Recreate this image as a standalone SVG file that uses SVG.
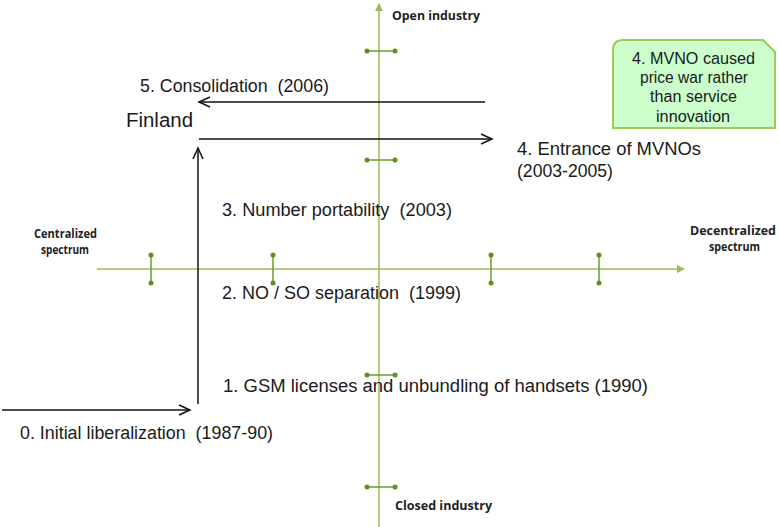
<svg xmlns="http://www.w3.org/2000/svg" width="779" height="527" viewBox="0 0 779 527">
<style>
.t{font-family:"Liberation Sans",Arial,sans-serif;font-size:18px;fill:#1a1a1a}
.s{font-family:"Open Sans","Liberation Sans",sans-serif;font-size:12px;font-weight:bold;fill:#222}
.ax{stroke:#9bbb59;stroke-width:1.5;fill:none}
.tk{stroke:#6f9a2e;stroke-width:1.5}
.dot{fill:#5f8f1f}
.bl{stroke:#111;stroke-width:1.5;fill:none}
.box{fill:#ccffcc;stroke:#9bcc5a;stroke-width:2}
.bt{font-family:"Liberation Sans",Arial,sans-serif;font-size:16px;fill:#1a1a1a}
</style>
<defs>
<marker id="ga" markerWidth="8" markerHeight="8" refX="7" refY="4" orient="auto" markerUnits="userSpaceOnUse">
<path d="M0,0 L8,4 L0,8 Z" fill="#9bbb59"/>
</marker>
<marker id="ba" markerWidth="14" markerHeight="12" refX="12" refY="6" orient="auto" markerUnits="userSpaceOnUse">
<path d="M1,1 L12,6 L1,11" fill="none" stroke="#111" stroke-width="1.5"/>
</marker>
</defs>
<rect width="779" height="527" fill="#fff"/>
<g id="axes">
<line class="ax" x1="379" y1="527" x2="379" y2="4" marker-end="url(#ga)"/>
<line class="ax" x1="97" y1="269" x2="684" y2="269" marker-end="url(#ga)"/>
</g>
<g id="ticks">
<line class="tk" x1="367" y1="51" x2="395" y2="51"/><circle class="dot" cx="367" cy="51" r="2.5"/><circle class="dot" cx="395" cy="51" r="2.5"/>
<line class="tk" x1="367" y1="160" x2="395" y2="160"/><circle class="dot" cx="367" cy="160" r="2.5"/><circle class="dot" cx="395" cy="160" r="2.5"/>
<line class="tk" x1="367" y1="375" x2="395" y2="375"/><circle class="dot" cx="367" cy="375" r="2.5"/><circle class="dot" cx="395" cy="375" r="2.5"/>
<line class="tk" x1="367" y1="487" x2="395" y2="487"/><circle class="dot" cx="367" cy="487" r="2.5"/><circle class="dot" cx="395" cy="487" r="2.5"/>
<line class="tk" x1="151" y1="255" x2="151" y2="283"/><circle class="dot" cx="151" cy="255" r="2.5"/><circle class="dot" cx="151" cy="283" r="2.5"/>
<line class="tk" x1="273" y1="255" x2="273" y2="283"/><circle class="dot" cx="273" cy="255" r="2.5"/><circle class="dot" cx="273" cy="283" r="2.5"/>
<line class="tk" x1="491" y1="255" x2="491" y2="283"/><circle class="dot" cx="491" cy="255" r="2.5"/><circle class="dot" cx="491" cy="283" r="2.5"/>
<line class="tk" x1="599" y1="255" x2="599" y2="283"/><circle class="dot" cx="599" cy="255" r="2.5"/><circle class="dot" cx="599" cy="283" r="2.5"/>
</g>
<g id="axis-labels">
<text class="s" x="392" y="20" textLength="88" lengthAdjust="spacingAndGlyphs">Open industry</text>
<text class="s" x="395" y="510" textLength="97" lengthAdjust="spacingAndGlyphs">Closed industry</text>
<text class="s" x="34" y="238" textLength="63" lengthAdjust="spacingAndGlyphs">Centralized</text>
<text class="s" x="41" y="254" textLength="48" lengthAdjust="spacingAndGlyphs">spectrum</text>
<text class="s" x="690" y="235" textLength="86" lengthAdjust="spacingAndGlyphs">Decentralized</text>
<text class="s" x="709" y="251" textLength="51" lengthAdjust="spacingAndGlyphs">spectrum</text>
</g>
<g id="connectors">
<line class="bl" x1="2" y1="410" x2="190" y2="410" marker-end="url(#ba)"/>
<line class="bl" x1="198" y1="404" x2="198" y2="148" marker-end="url(#ba)"/>
<line class="bl" x1="199" y1="139" x2="492" y2="139" marker-end="url(#ba)"/>
<line class="bl" x1="485" y1="102" x2="199" y2="102" marker-end="url(#ba)"/>
</g>
<g id="finland"><text class="t" x="126" y="127" style="font-size:20px" textLength="67" lengthAdjust="spacingAndGlyphs">Finland</text></g>
<g id="step0"><text class="t" x="20" y="439" xml:space="preserve" textLength="253" lengthAdjust="spacingAndGlyphs">0. Initial liberalization  (1987-90)</text></g>
<g id="step1"><text class="t" x="223" y="392" textLength="425" lengthAdjust="spacingAndGlyphs">1. GSM licenses and unbundling of handsets (1990)</text></g>
<g id="step2"><text class="t" x="222" y="299" xml:space="preserve" textLength="239" lengthAdjust="spacingAndGlyphs">2. NO / SO separation  (1999)</text></g>
<g id="step3"><text class="t" x="222" y="216" xml:space="preserve" textLength="230" lengthAdjust="spacingAndGlyphs">3. Number portability  (2003)</text></g>
<g id="step4"><text class="t" x="517" y="155" textLength="184" lengthAdjust="spacingAndGlyphs">4. Entrance of MVNOs</text><text class="t" x="517" y="177" textLength="96" lengthAdjust="spacingAndGlyphs">(2003-2005)</text></g>
<g id="step5"><text class="t" x="140" y="92" xml:space="preserve" textLength="189" lengthAdjust="spacingAndGlyphs">5. Consolidation  (2006)</text></g>
<g id="note">
<path class="box" d="M623,40 L763,40 L775,52 L775,128 L613,128 L613,50 Q613,40 623,40 Z"/>
<text class="bt" x="632" y="64" textLength="123" lengthAdjust="spacingAndGlyphs">4. MVNO caused</text>
<text class="bt" x="640" y="83" textLength="108" lengthAdjust="spacingAndGlyphs">price war rather</text>
<text class="bt" x="650" y="102" textLength="87" lengthAdjust="spacingAndGlyphs">than service</text>
<text class="bt" x="656" y="122" textLength="74" lengthAdjust="spacingAndGlyphs">innovation</text>
</g>
</svg>
